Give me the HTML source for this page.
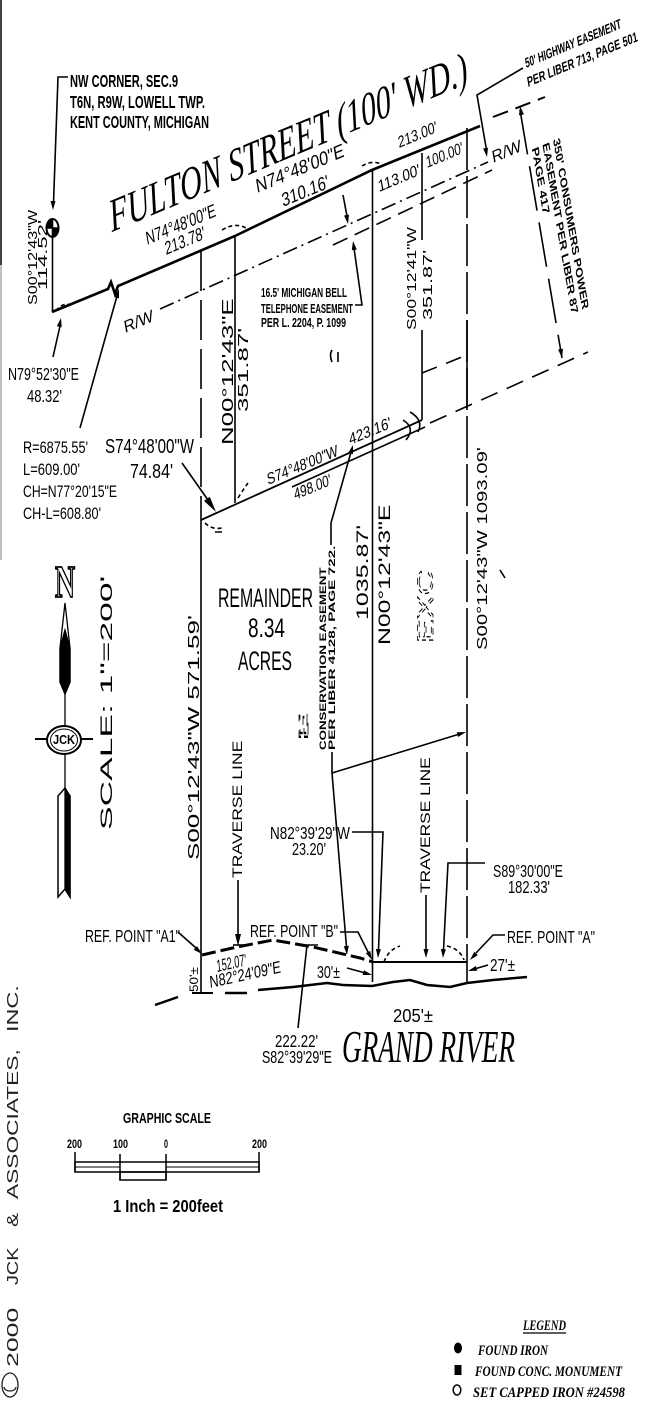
<!DOCTYPE html>
<html><head><meta charset="utf-8"><style>
html,body{margin:0;padding:0;background:#fff;}
svg{display:block;}
text{font-family:"Liberation Sans",sans-serif;fill:#000;}
.b{font-weight:bold;}
.s{font-family:"Liberation Serif",serif;font-style:italic;}
</style></head><body>
<svg width="650" height="1420" viewBox="0 0 650 1420" xmlns="http://www.w3.org/2000/svg">
<rect width="650" height="1420" fill="#fff"/>
<!-- left border -->
<line x1="1" y1="0" x2="1" y2="265" stroke="#444" stroke-width="2"/>
<line x1="1" y1="265" x2="1" y2="560" stroke="#aaa" stroke-width="1.5"/>

<g stroke="#000" fill="none" stroke-width="1.6">
  <!-- Fulton main line -->
  <polyline points="52,312 108,289 111,282 115,294 118,286 235,236 372,170 480,126" stroke-width="2.6"/>
  <!-- R/W dashed -->
  <line x1="160" y1="309" x2="488" y2="162" stroke-dasharray="15 5 2 5"/>
  <line x1="333" y1="245" x2="492" y2="170" stroke-dasharray="16 8"/>
  <line x1="493" y1="117" x2="545" y2="97" stroke-dasharray="16 8" stroke-width="2"/>
  <!-- NW corner -->
  <line x1="52.5" y1="237" x2="52.5" y2="312"/>
  <polyline points="68,77 58,77 53.5,203"/>
  <ellipse cx="52.5" cy="228" rx="6" ry="9" stroke-width="2"/>
  <path d="M52.5,228 L52.5,219 A6,9 0 0,0 46.5,228 Z M52.5,228 L52.5,237 A6,9 0 0,0 58.5,228 Z" fill="#000"/>
  <path d="M56,311 Q62,302 72,305" stroke-dasharray="4 3"/>
  <!-- verticals -->
  <line x1="201" y1="251" x2="201" y2="497" stroke-dasharray="40 9"/>
  <line x1="201" y1="497" x2="201" y2="993"/>
  <line x1="235" y1="236" x2="235" y2="503"/>
  <line x1="372.5" y1="170" x2="372.5" y2="982"/>
  <line x1="467" y1="128" x2="467" y2="962" stroke-dasharray="42 6"/>
  <line x1="467" y1="320" x2="467" y2="408"/>
  <line x1="467" y1="962" x2="467" y2="983"/>
  <line x1="422" y1="153" x2="422" y2="240"/>
  <line x1="422" y1="330" x2="422" y2="420"/>
  <!-- corner arcs -->
  <path d="M222,230 Q235,222 246,228" stroke-dasharray="4 3"/>
  <path d="M362,166 Q372,160 381,164" stroke-dasharray="4 3"/>
  <path d="M205,523 Q212,530 222,528" stroke-dasharray="4 3"/>
  <path d="M238,498 Q243,490 248,483" stroke-dasharray="4 3"/>
  <!-- jog / consumers south line -->
  <line x1="422" y1="373" x2="467" y2="355" stroke-dasharray="16 10"/>
  <line x1="430" y1="423" x2="588" y2="352" stroke-dasharray="18 10"/>
  <path d="M410,412 Q424,420 418,432 M403,420 Q416,428 406,440"/>
  <!-- parcel north line -->
  <line x1="201" y1="520" x2="422" y2="420" stroke-width="1.8"/>
  <line x1="292" y1="487" x2="425" y2="427"/>
  <!-- 350' dimension -->
  <line x1="520" y1="110" x2="562" y2="358" stroke-dasharray="45 12"/>
  <!-- highway leader -->
  <polyline points="523,68 477,95 486.5,150"/>
  <!-- telephone leaders -->
  <line x1="343" y1="195" x2="347" y2="216"/>
  <polyline points="355,305 362,305 354,248"/>
  <!-- conservation leaders -->
  <polyline points="331,545 331,523 351,452"/>
  <polyline points="332,752 332,773 346.5,947"/>
  <line x1="332" y1="773" x2="458" y2="734.5"/>
  <!-- other leaders -->
  <line x1="182" y1="463" x2="208" y2="500"/>
  <line x1="80" y1="428" x2="117" y2="296"/>
  <line x1="53" y1="357" x2="60" y2="326"/>
  <line x1="238" y1="880" x2="238" y2="937"/>
  <line x1="233" y1="945" x2="244" y2="945"/>
  <line x1="426" y1="895" x2="426" y2="950"/>
  <polyline points="352,832 383,832 378.5,950"/>
  <polyline points="485,863 448,863 443.5,950"/>
  <polyline points="505,935 493,935 476,953"/>
  <line x1="178" y1="932" x2="196" y2="948"/>
  <polyline points="340,932 358,932 368,952"/>
  <line x1="347" y1="968" x2="364" y2="972.6"/>
  <line x1="488" y1="965" x2="476.6" y2="968.4"/>
  <polyline points="298,1028 307,945 318,945"/>
  <!-- bottom -->
  <line x1="372" y1="962" x2="467" y2="962" stroke-width="2"/>
  <polyline points="202,955 237,947 273,940 313,947 360,958 373,962" stroke-width="3" stroke-dasharray="14 5"/>
  <polyline points="258,990 293,987 327,983 343,985 372,986 393,982 410,980 427,985 450,987 467,983 493,980 527,977" stroke-width="2.5"/>
  <path d="M155,1005 L178,997 M225,993 L247,993" stroke-width="2.5"/>
  <line x1="192" y1="993" x2="213" y2="993" stroke-width="2"/>
  <path d="M384,962 Q388,950 400,946 M447,946 Q460,949 464,960" stroke-dasharray="4 3"/>
  <!-- marks -->
  <path d="M332,350 q-3,5 0,12 M338,352 L338,362 M500,570 L505,578 M215,532 L222,532"/>
</g>

<!-- arrowheads -->
<g fill="#000" stroke="none">
  <polygon points="53,210 50.5,201 55.5,201"/>
  <polygon points="61,318 61.7,327.3 56.8,326.3"/>
  <polygon points="119,289 119,298.4 114.2,297"/>
  <polygon points="216,512 209.8,496.9 204,500.9"/>
  <polygon points="348,224 349,214.7 344,215.5"/>
  <polygon points="353,241 356.8,249.6 351.8,250.2"/>
  <polygon points="487,157 488,147.7 483.1,148.5"/>
  <polygon points="520,106 524,114.5 519,115.3"/>
  <polygon points="562,358 563,348.7 558.1,349.5"/>
  <polygon points="353,445 353,454.3 348.2,452.9"/>
  <polygon points="347,955 348.8,945.8 343.8,946.2"/>
  <polygon points="466,732 458.1,737 456.7,732.2"/>
  <polygon points="238,946 235,934 241,934"/>
  <polygon points="426,958 423.5,949 428.5,949"/>
  <polygon points="378,958 375.9,949 380.9,949.2"/>
  <polygon points="443,958 440.9,949 445.9,949.2"/>
  <polygon points="470,960 477.9,955.1 474.3,951.7"/>
  <polygon points="202,954 197.1,946.1 193.7,949.7"/>
  <polygon points="372,960 370.2,950.9 365.8,953.1"/>
  <polygon points="372,975 364,970.2 362.6,975"/>
  <polygon points="468,971 477.3,970.8 475.9,966"/>
</g>

<!-- compass -->
<g stroke="#000" stroke-width="1.3">
  <polygon points="65,603 70,648 70,682 65,694 60,682 60,648" fill="#fff"/>
  <polygon points="65,630 70,648 70,682 65,694 60,682 60,648" fill="#000"/>
  <line x1="65" y1="694" x2="65" y2="726"/>
  <ellipse cx="64" cy="740" rx="17" ry="14" fill="#fff" stroke-width="2"/>
  <ellipse cx="64" cy="740" rx="13.5" ry="11" fill="none" stroke-width="1"/>
  <line x1="35" y1="739" x2="47" y2="739" stroke-width="2"/>
  <line x1="81" y1="739" x2="93" y2="739" stroke-width="2"/>
  <line x1="65" y1="754" x2="65" y2="790"/>
  <polygon points="65,788 70,796 70,897 65,889 58,897 58,796" fill="#fff" stroke-width="1.5"/>
  <polygon points="65,790 70,796 70,897 65,889" fill="#000"/>
</g>
<text class="b" transform="matrix(1 0 0 1.56 53 744)" font-size="8" textLength="22" lengthAdjust="spacingAndGlyphs">JCK</text>
<text transform="matrix(1 0 0 1.56 55 597)" font-size="29" textLength="20" lengthAdjust="spacingAndGlyphs" style="font-family:'Liberation Serif',serif;font-weight:bold;fill:none;stroke:#000;stroke-width:1.2">N</text>

<!-- graphic scale -->
<g stroke="#000" fill="none" stroke-width="1.5">
  <rect x="75" y="1162" width="184" height="10"/>
  <line x1="75" y1="1167" x2="120" y2="1167" stroke-width="1"/>
  <line x1="166" y1="1167" x2="259" y2="1167" stroke-width="1"/>
  <rect x="120" y="1172" width="46" height="8"/>
  <line x1="75" y1="1152" x2="75" y2="1172"/>
  <line x1="120" y1="1154" x2="120" y2="1180"/>
  <line x1="166" y1="1154" x2="166" y2="1180"/>
  <line x1="259" y1="1152" x2="259" y2="1172"/>
</g>

<!-- legend symbols -->
<ellipse cx="458" cy="1348" rx="4" ry="5.5" fill="#000"/>
<rect x="454.5" y="1365" width="7" height="10" fill="#000"/>
<ellipse cx="457" cy="1390" rx="3.8" ry="5" fill="none" stroke="#000" stroke-width="1.5"/>
<line x1="523" y1="1333" x2="566" y2="1333" stroke="#000" stroke-width="1.2"/>

<!-- copyright -->
<ellipse cx="10" cy="1385" rx="8" ry="12" fill="none" stroke="#222" stroke-width="1.3"/>
<path d="M8,1379 A4,6 0 1,0 8,1391" fill="none" stroke="#222" stroke-width="1.2" transform="rotate(-90 10 1385)"/>

<!-- ===== Horizontal text ===== -->
<g font-size="11.4">
<text class="b" transform="matrix(1 0 0 1.56 70 87)" textLength="108" lengthAdjust="spacingAndGlyphs">NW CORNER, SEC.9</text>
<text class="b" transform="matrix(1 0 0 1.56 70 108)" textLength="135" lengthAdjust="spacingAndGlyphs">T6N, R9W, LOWELL TWP.</text>
<text class="b" transform="matrix(1 0 0 1.56 70 128)" textLength="139" lengthAdjust="spacingAndGlyphs">KENT COUNTY, MICHIGAN</text>
<text transform="matrix(1 0 0 1.56 8 380)" textLength="71" lengthAdjust="spacingAndGlyphs">N79°52'30"E</text>
<text transform="matrix(1 0 0 1.56 27 402)" textLength="35" lengthAdjust="spacingAndGlyphs">48.32'</text>
</g>
<g font-size="10.5">
<text transform="matrix(1 0 0 1.56 23 453)" textLength="65" lengthAdjust="spacingAndGlyphs">R=6875.55'</text>
<text transform="matrix(1 0 0 1.56 23 475)" textLength="57" lengthAdjust="spacingAndGlyphs">L=609.00'</text>
<text transform="matrix(1 0 0 1.56 23 497)" textLength="94" lengthAdjust="spacingAndGlyphs">CH=N77°20'15"E</text>
<text transform="matrix(1 0 0 1.56 23 519)" textLength="78" lengthAdjust="spacingAndGlyphs">CH-L=608.80'</text>
</g>
<text transform="matrix(1 0 0 1.56 105 453)" font-size="13" textLength="89" lengthAdjust="spacingAndGlyphs">S74°48'00"W</text>
<text transform="matrix(1 0 0 1.56 130 478)" font-size="13" textLength="43" lengthAdjust="spacingAndGlyphs">74.84'</text>
<g font-size="8">
<text class="b" transform="matrix(1 0 0 1.56 261 297)" textLength="86" lengthAdjust="spacingAndGlyphs">16.5' MICHIGAN BELL</text>
<text class="b" transform="matrix(1 0 0 1.56 261 313)" textLength="92" lengthAdjust="spacingAndGlyphs">TELEPHONE EASEMENT</text>
<text class="b" transform="matrix(1 0 0 1.56 261 327)" textLength="85" lengthAdjust="spacingAndGlyphs">PER L. 2204, P. 1099</text>
</g>
<g font-size="17.5">
<text transform="matrix(1 0 0 1.56 218 607)" textLength="95" lengthAdjust="spacingAndGlyphs">REMAINDER</text>
<text transform="matrix(1 0 0 1.56 248 637)" textLength="37" lengthAdjust="spacingAndGlyphs">8.34</text>
<text transform="matrix(1 0 0 1.56 238 670)" textLength="54" lengthAdjust="spacingAndGlyphs">ACRES</text>
</g>
<g font-size="11.4">
<text transform="matrix(1 0 0 1.56 270 839)" textLength="80" lengthAdjust="spacingAndGlyphs">N82°39'29"W</text>
<text transform="matrix(1 0 0 1.56 292 855)" textLength="34" lengthAdjust="spacingAndGlyphs">23.20'</text>
<text transform="matrix(1 0 0 1.56 493 877)" textLength="70" lengthAdjust="spacingAndGlyphs">S89°30'00"E</text>
<text transform="matrix(1 0 0 1.56 508 893)" textLength="42" lengthAdjust="spacingAndGlyphs">182.33'</text>
<text transform="matrix(1 0 0 1.56 507 943)" textLength="88" lengthAdjust="spacingAndGlyphs">REF. POINT "A"</text>
<text transform="matrix(1 0 0 1.56 490 971)" textLength="25" lengthAdjust="spacingAndGlyphs">27'±</text>
<text transform="matrix(1 0 0 1.56 85 942)" textLength="95" lengthAdjust="spacingAndGlyphs">REF. POINT "A1"</text>
<text transform="matrix(1 0 0 1.56 250 937)" textLength="88" lengthAdjust="spacingAndGlyphs">REF. POINT "B"</text>
<text transform="matrix(1 0 0 1.56 317 978)" textLength="23" lengthAdjust="spacingAndGlyphs">30'±</text>
<text transform="matrix(1 0 0 1.56 393 1022)" font-size="12" textLength="40" lengthAdjust="spacingAndGlyphs">205'±</text>
<text transform="matrix(1 0 0 1.56 275 1047)" font-size="11" textLength="43" lengthAdjust="spacingAndGlyphs">222.22'</text>
<text transform="matrix(1 0 0 1.56 262 1063)" font-size="11" textLength="70" lengthAdjust="spacingAndGlyphs">S82°39'29"E</text>
</g>
<text class="s" transform="matrix(1 0 0 1.56 342 1062)" font-size="29" textLength="173" lengthAdjust="spacingAndGlyphs">GRAND RIVER</text>
<g>
<text class="b" transform="matrix(1 0 0 1.56 123 1123)" font-size="9.5" textLength="88" lengthAdjust="spacingAndGlyphs">GRAPHIC SCALE</text>
<text class="b" transform="matrix(1 0 0 1.56 67 1148)" font-size="7.5" textLength="15" lengthAdjust="spacingAndGlyphs">200</text>
<text class="b" transform="matrix(1 0 0 1.56 113 1148)" font-size="7.5" textLength="15" lengthAdjust="spacingAndGlyphs">100</text>
<text class="b" transform="matrix(1 0 0 1.56 164 1148)" font-size="7.5" textLength="4" lengthAdjust="spacingAndGlyphs">0</text>
<text class="b" transform="matrix(1 0 0 1.56 252 1148)" font-size="7.5" textLength="15" lengthAdjust="spacingAndGlyphs">200</text>
<text class="b" transform="matrix(1 0 0 1.56 113 1212)" font-size="11" textLength="110" lengthAdjust="spacingAndGlyphs">1 Inch =  200feet</text>
</g>
<g>
<text transform="matrix(1 0 0 1.56 523 1330)" font-size="9.5" textLength="43" lengthAdjust="spacingAndGlyphs" style="font-family:'Liberation Serif',serif;font-style:italic;font-weight:bold">LEGEND</text>
<text transform="matrix(1 0 0 1.56 478 1355)" font-size="9.5" textLength="70" lengthAdjust="spacingAndGlyphs" style="font-family:'Liberation Serif',serif;font-style:italic;font-weight:bold">FOUND IRON</text>
<text transform="matrix(1 0 0 1.56 475 1376)" font-size="9.5" textLength="147" lengthAdjust="spacingAndGlyphs" style="font-family:'Liberation Serif',serif;font-style:italic;font-weight:bold">FOUND CONC. MONUMENT</text>
<text transform="matrix(1 0 0 1.56 473 1397)" font-size="9.5" textLength="152" lengthAdjust="spacingAndGlyphs" style="font-family:'Liberation Serif',serif;font-style:italic;font-weight:bold">SET CAPPED IRON #24598</text>
</g>

<!-- ===== Vertical text (bottom-to-top) ===== -->
<text transform="matrix(0 -1.56 1 0 37 305)" font-size="12.5" textLength="61" lengthAdjust="spacingAndGlyphs">S00°12'43"W</text>
<text transform="matrix(0 -1.56 1 0 47 290)" font-size="12.5" textLength="45" lengthAdjust="spacingAndGlyphs">114.52'</text>
<text transform="matrix(0 -1.56 1 0 199 860)" font-size="16" textLength="157" lengthAdjust="spacingAndGlyphs">S00°12'43"W  571.59'</text>
<text transform="matrix(0 -1.56 1 0 233 445)" font-size="16" textLength="94" lengthAdjust="spacingAndGlyphs">N00°12'43"E</text>
<text transform="matrix(0 -1.56 1 0 248 412)" font-size="15" textLength="54" lengthAdjust="spacingAndGlyphs">351.87'</text>
<text transform="matrix(0 -1.56 1 0 368 620)" font-size="16.5" textLength="61" lengthAdjust="spacingAndGlyphs">1035.87'</text>
<text transform="matrix(0 -1.56 1 0 390 645)" font-size="16.5" textLength="90" lengthAdjust="spacingAndGlyphs">N00°12'43"E</text>
<text transform="matrix(0 -1.56 1 0 487 650)" font-size="14.5" textLength="130" lengthAdjust="spacingAndGlyphs">S00°12'43"W  1093.09'</text>
<text transform="matrix(0 -1.56 1 0 416 330)" font-size="13" textLength="66" lengthAdjust="spacingAndGlyphs">S00°12'41"W</text>
<text transform="matrix(0 -1.56 1 0 432 320)" font-size="13" textLength="45" lengthAdjust="spacingAndGlyphs">351.87'</text>
<text transform="matrix(0 -1.56 1 0 242 878)" font-size="13.5" textLength="88" lengthAdjust="spacingAndGlyphs">TRAVERSE  LINE</text>
<text transform="matrix(0 -1.56 1 0 430 893)" font-size="13.5" textLength="87" lengthAdjust="spacingAndGlyphs">TRAVERSE  LINE</text>
<text transform="matrix(0 -1.56 1 0 112 830)" font-size="16.4" textLength="163" lengthAdjust="spacingAndGlyphs">SCALE:  1"=200'</text>
<text class="b" transform="matrix(0 -1.56 1 0 326 750)" font-size="9.5" textLength="117" lengthAdjust="spacingAndGlyphs">CONSERVATION  EASEMENT</text>
<text class="b" transform="matrix(0 -1.56 1 0 335 750)" font-size="9.5" textLength="131" lengthAdjust="spacingAndGlyphs">PER LIBER 4128, PAGE 722.</text>
<text transform="matrix(0 -1.56 1 0 198 992)" font-size="12" textLength="16" lengthAdjust="spacingAndGlyphs">50'±</text>
<text transform="matrix(0 -1.56 1 0 433 643)" font-size="22" textLength="47" lengthAdjust="spacingAndGlyphs" style="fill:none;stroke:#000;stroke-width:0.8;stroke-dasharray:4 3">EXC</text>
<text transform="matrix(0 -1.56 1 0 308 740)" font-size="13" textLength="17" lengthAdjust="spacingAndGlyphs" style="fill:none;stroke:#000;stroke-width:0.8;stroke-dasharray:4 3">E</text>
<g font-size="16" style="fill:#222">
<text transform="matrix(0 -1.56 1 0 18 1367)" textLength="38" lengthAdjust="spacingAndGlyphs" style="fill:#222">2000</text>
<text transform="matrix(0 -1.56 1 0 18 1285)" textLength="24" lengthAdjust="spacingAndGlyphs" style="fill:#222">JCK</text>
<text transform="matrix(0 -1.56 1 0 18 1227)" textLength="9" lengthAdjust="spacingAndGlyphs" style="fill:#222">&amp;</text>
<text transform="matrix(0 -1.56 1 0 18 1199)" textLength="96" lengthAdjust="spacingAndGlyphs" style="fill:#222">ASSOCIATES,</text>
<text transform="matrix(0 -1.56 1 0 18 1032)" textLength="30" lengthAdjust="spacingAndGlyphs" style="fill:#222">INC.</text>
</g>

<!-- ===== Rotated -15 text ===== -->
<text class="s" transform="matrix(0.966 -0.404 0.259 1.507 112 232)" font-size="30" textLength="370" lengthAdjust="spacingAndGlyphs">FULTON STREET (100' WD.)</text>
<g font-size="12">
<text transform="matrix(0.966 -0.404 0.259 1.507 147 245)" textLength="72" lengthAdjust="spacingAndGlyphs">N74°48'00"E</text>
<text transform="matrix(0.966 -0.404 0.259 1.507 166 255)" textLength="41" lengthAdjust="spacingAndGlyphs">213.78'</text>
<text transform="matrix(0.966 -0.404 0.259 1.507 257 193)" font-size="12.5" textLength="91" lengthAdjust="spacingAndGlyphs">N74°48'00"E</text>
<text transform="matrix(0.966 -0.404 0.259 1.507 283 207)" font-size="12.5" textLength="48" lengthAdjust="spacingAndGlyphs">310.16'</text>
<text transform="matrix(0.966 -0.404 0.259 1.507 125 333)" font-size="11" textLength="30" lengthAdjust="spacingAndGlyphs">R/W</text>
<text transform="matrix(0.966 -0.404 0.259 1.507 493 163)" font-size="11" textLength="30" lengthAdjust="spacingAndGlyphs">R/W</text>
</g>
<g font-size="10.5">
<text transform="matrix(0.966 -0.404 0.259 1.507 399 148)" textLength="40" lengthAdjust="spacingAndGlyphs">213.00'</text>
<text transform="matrix(0.966 -0.404 0.259 1.507 379 192)" textLength="43" lengthAdjust="spacingAndGlyphs">113.00'</text>
<text transform="matrix(0.966 -0.404 0.259 1.507 427 168)" textLength="38" lengthAdjust="spacingAndGlyphs">100.00'</text>
<text transform="matrix(0.966 -0.404 0.259 1.507 268 485)" textLength="73" lengthAdjust="spacingAndGlyphs">S74°48'00"W</text>
<text transform="matrix(0.966 -0.404 0.259 1.507 295 500)" textLength="38" lengthAdjust="spacingAndGlyphs">498.00'</text>
<text transform="matrix(0.966 -0.404 0.259 1.507 350 445)" textLength="43" lengthAdjust="spacingAndGlyphs">423.16'</text>
</g>
<text class="b" transform="matrix(0.966 -0.404 0.259 1.507 526 68)" font-size="9" textLength="99" lengthAdjust="spacingAndGlyphs">50' HIGHWAY EASEMENT</text>
<text class="b" transform="matrix(0.966 -0.404 0.259 1.507 528 87)" font-size="9" textLength="114" lengthAdjust="spacingAndGlyphs">PER LIBER 713, PAGE 501</text>

<!-- ===== Rotated -8 text ===== -->
<text transform="matrix(0.990 -0.217 0.139 1.545 217 972)" font-size="11" textLength="30" lengthAdjust="spacingAndGlyphs">152.07'</text>
<text transform="matrix(0.990 -0.217 0.139 1.545 210 988)" font-size="11" textLength="72" lengthAdjust="spacingAndGlyphs">N82°24'09"E</text>

<!-- ===== Rotated +75 text ===== -->
<g font-size="10">
<text class="b" transform="matrix(0.259 1.507 -0.966 0.404 553 140)" textLength="113" lengthAdjust="spacingAndGlyphs">350' CONSUMERS POWER</text>
<text class="b" transform="matrix(0.259 1.507 -0.966 0.404 542.4 144.4)" textLength="113" lengthAdjust="spacingAndGlyphs">EASEMENT PER LIBER 87</text>
<text class="b" transform="matrix(0.259 1.507 -0.966 0.404 531.8 148.8)" textLength="44" lengthAdjust="spacingAndGlyphs">PAGE 417</text>
</g>
</svg>
</body></html>
